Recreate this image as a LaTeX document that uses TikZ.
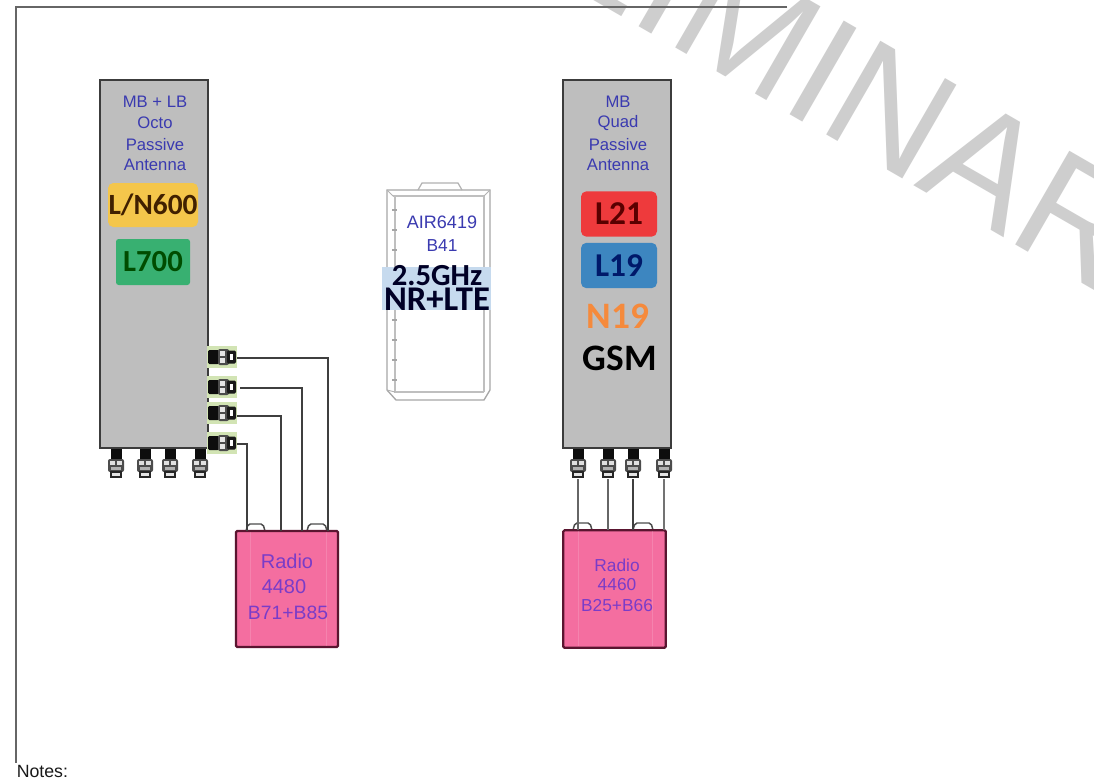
\documentclass[tikz,border=0pt]{standalone}
\usepackage{fontspec}
\setmainfont{Liberation Sans}
\newfontfamily\boldface{Carlito}
\definecolor{watermark}{HTML}{CECECE}
\definecolor{antgrey}{HTML}{BEBEBE}
\definecolor{antedge}{HTML}{3C3C3C}
\definecolor{labelblue}{HTML}{3A3AB0}
\definecolor{radiopink}{HTML}{F46EA0}
\definecolor{radioedge}{HTML}{5A1530}
\definecolor{radiotext}{HTML}{7A3CC8}
\definecolor{wire}{HTML}{3F3F3F}
\definecolor{portgreen}{HTML}{D2E4B4}
\definecolor{yellowband}{HTML}{F4C64B}
\definecolor{greenband}{HTML}{38B071}
\definecolor{redband}{HTML}{EE3A3C}
\definecolor{blueband}{HTML}{3D86C0}
\definecolor{airband}{HTML}{C6DAEE}
\definecolor{orangetext}{HTML}{F58A3C}
\tikzset{
  x=0.75pt,y=-0.75pt,
  antenna/.style={draw=antedge,line width=1.3pt,fill=antgrey,minimum width=81pt,minimum height=276pt,inner sep=0pt,outer sep=0pt},
  radiobox/.style={draw=radioedge,line width=1.7pt,fill=radiopink,rounded corners=1pt,inner sep=0pt,outer sep=0pt},
  bandbox/.style={rounded corners=4pt,inner sep=0pt,outer sep=0pt},
  anttext/.style={text=labelblue,font=\fontsize{12.5}{14}\selectfont,inner sep=0pt},
  radtext/.style={text=radiotext,font=\fontsize{15}{17}\selectfont,inner sep=0pt},
  radtextb/.style={text=radiotext,font=\fontsize{13}{15}\selectfont,inner sep=0pt},
  bandtext/.style={font=\boldface\bfseries\fontsize{22}{24}\selectfont,inner sep=0pt},
  bigband/.style={font=\boldface\bfseries\fontsize{25}{28}\selectfont,inner sep=0pt},
  hugeband/.style={font=\boldface\bfseries\fontsize{28}{30}\selectfont,inner sep=0pt},
  wirestyle/.style={draw=wire,line width=1.05pt},
  tabstyle/.style={draw=black!70,line width=1.1pt,fill=white,rounded corners=1.5pt},
  portpt/.style={inner sep=0pt,minimum size=0pt,outer sep=0pt},
}
% connector pointing down, origin at top centre
\newcommand{\downport}[3]{%
  \fill[black!95] (#1-5.5,#2) rectangle (#1+5.5,#2+10);
  \fill[black!70,rounded corners=1.5pt] (#1-8,#2+10) rectangle (#1+8,#2+23);
  \fill[black!12] (#1-6,#2+12) rectangle (#1-1,#2+16);
  \fill[black!12] (#1+1,#2+12) rectangle (#1+6,#2+16);
  \fill[black!30] (#1-5,#2+18) rectangle (#1+5,#2+21);
  \filldraw[draw=black!85,fill=black!10,line width=1.5pt] (#1-5,#2+22.5) rectangle (#1+5,#2+28);
  \node[portpt] (#3) at (#1,#2+30) {};
}
% connector pointing right, origin at left centre
\newcommand{\sideport}[3]{%
  \fill[portgreen] (#1,#2-11) rectangle (#1+30,#2+11);
  \fill[black!95,rounded corners=1pt] (#1+1,#2-7) rectangle (#1+12,#2+7);
  \fill[black!70,rounded corners=1.5pt] (#1+11,#2-8) rectangle (#1+22,#2+8);
  \fill[black!10] (#1+13,#2-6) rectangle (#1+18,#2-1);
  \fill[black!10] (#1+13,#2+1) rectangle (#1+18,#2+6);
  \fill[black!90,rounded corners=1pt] (#1+20,#2-6.5) rectangle (#1+29,#2+6.5);
  \fill[white] (#1+23,#2-3) rectangle (#1+26,#2+3);
  \node[portpt] (#3) at (#1+30,#2+1) {};
}
\begin{document}
\begin{tikzpicture}
\useasboundingbox (0,0) rectangle (1094,782);
\fill[white] (0,0) rectangle (1094,782);
% watermark
\begin{scope}
\clip (0,0) rectangle (1094,782);
\node[rotate=-30,anchor=base west,inner sep=0pt,text=watermark,font=\fontsize{118}{120}\selectfont] (wm) at (270,-186) {PRELIMINARY};
\end{scope}
% page frame
\coordinate (frameA) at (787,7);
\coordinate (frameB) at (16,7);
\coordinate (frameC) at (16,763);
\draw[black!60,line width=0.8pt] (frameA) -- (frameB) -- (frameC);
\node[anchor=base west,inner sep=0pt,font=\fontsize{13.3}{15}\selectfont,text=black!90] (notes) at (16.5,777) {Notes:};
% antennas
\node[antenna] (antL) at (154,264) {};
\node[antenna] (antR) at (617,264) {};
\node[anttext] (l1) at (155,102) {MB + LB};
\node[anttext] (l2) at (155,123) {Octo};
\node[anttext] (l3) at (155,145) {Passive};
\node[anttext] (l4) at (155,165) {Antenna};
\node[anttext] (r1) at (618,102) {MB};
\node[anttext] (r2) at (618,123) {Quad};
\node[anttext] (r3) at (618,145) {Passive};
\node[anttext] (r4) at (618,165) {Antenna};
% band labels
\node[bandbox,fill=yellowband,minimum width=67.5pt,minimum height=33pt] (b600) at (153,205) {};
\node[bandtext,text=black!75!orange] (tb600) at (b600) {L/N600};
\node[bandbox,fill=greenband,rounded corners=2pt,minimum width=55.5pt,minimum height=34.5pt] (b700) at (153,262) {};
\node[bandtext,font=\boldface\bfseries\fontsize{23}{25}\selectfont,text=green!30!black] (tb700) at (b700) {L700};
\node[bandbox,fill=redband,minimum width=57pt,minimum height=34pt] (b21) at (619,214) {};
\node[bigband,text=red!35!black] (tb21) at (b21) {L21};
\node[bandbox,fill=blueband,minimum width=57pt,minimum height=34pt] (b19) at (619,265.5) {};
\node[bigband,text=blue!35!black!90!cyan] (tb19) at (b19) {L19};
\node[hugeband,text=orangetext] (n19) at (618,316) {N19};
\node[hugeband,text=black] (gsm) at (620,358) {GSM};
% AIR unit
\draw[black!35,line width=1pt,fill=white] (387,190) -- (490,190) -- (490,390) -- (484,400) -- (396,400) -- (387,390) -- cycle;
\draw[black!25,line width=0.8pt] (393,196) -- (484,196) -- (484,392);
\draw[black!25,line width=0.8pt] (395,196) -- (395,392) -- (484,392);
\draw[black!30,line width=0.9pt] (418,190) -- (422,183) -- (458,183) -- (462,190);
\draw[black!30,line width=0.7pt] (387,190) -- (393,196) (490,190) -- (484,196) (387,390) -- (395,392);
\foreach \yy in {210,230,250,320,340,360,380} {\draw[black!35,line width=1.2pt] (392,\yy) -- (397,\yy);}
\fill[airband] (382,267) rectangle (491,310);
\node[anttext,font=\fontsize{13.5}{15}\selectfont] (air1) at (442,222) {AIR6419};
\node[anttext,font=\fontsize{13}{15}\selectfont] (air2) at (442,246) {B41};
\node[bandtext,font=\boldface\bfseries\fontsize{23}{25}\selectfont,text=black!85!blue] (air3) at (437,276) {2.5GHz};
\node[bandtext,font=\boldface\bfseries\fontsize{26}{28}\selectfont,text=black!85!blue] (air4) at (437,299) {NR+LTE};
% ports
\sideport{207}{357}{pa}
\sideport{207}{387}{pb}
\sideport{207}{413}{pc}
\sideport{207}{443}{pd}
\downport{116}{449}{qa}
\downport{145}{449}{qb}
\downport{170}{449}{qc}
\downport{200}{449}{qd}
\downport{578}{449}{ra}
\downport{608}{449}{rb}
\downport{633}{449}{rc}
\downport{664}{449}{rd}
% tabs
\filldraw[tabstyle] (246,531) -- (248,524) -- (263,524) -- (265,531);
\filldraw[tabstyle] (307,531) -- (309,524) -- (325,524) -- (327,531);
\filldraw[tabstyle] (573,530) -- (575,523) -- (590,523) -- (592,530);
\filldraw[tabstyle] (633,530) -- (635,523) -- (651,523) -- (653,530);
% radios
\node[radiobox,minimum width=76.5pt,minimum height=87pt] (radL) at (287,589) {};
\node[radiobox,minimum width=77pt,minimum height=88pt] (radR) at (614.5,589) {};
\draw[white,opacity=.15,line width=0.6pt] (250,532) -- (250,646) (326,532) -- (326,646);
\draw[white,opacity=.15,line width=0.6pt] (578,531) -- (578,646) (652,531) -- (652,646);
\node[radtext] (t1) at (287,561) {Radio};
\node[radtext] (t2) at (284,587) {4480};
\node[radtext,font=\fontsize{14.5}{16}\selectfont] (t3) at (288,613) {B71+B85};
\node[radtextb] (t4) at (617,565) {Radio};
\node[radtextb] (t5) at (617,585) {4460};
\node[radtextb] (t6) at (617,606) {B25+B66};
% radio pins
\coordinate (la) at (328,531);
\coordinate (lb) at (302,531);
\coordinate (lc) at (281,531);
\coordinate (ld) at (247,531);
\coordinate (ma) at (578,530);
\coordinate (mb) at (608,530);
\coordinate (mc) at (633,530);
\coordinate (md) at (664,530);
% wires
\draw[wirestyle] (pa.east) -| (la);
\draw[wirestyle,shorten <=2.5pt] (pb.east) -| (lb);
\draw[wirestyle] ([yshift=-1.5pt]pc.east) -| (lc);
\draw[wirestyle] (pd.east) -| (ld);
\draw[wirestyle,line width=1.3pt,draw=black!60] (ra) -- (ma);
\draw[wirestyle,line width=1.3pt,draw=black!60] (rb) -- (mb);
\draw[wirestyle] (rc) -- (mc);
\draw[wirestyle,draw=black!55] (rd) -- (md);
\end{tikzpicture}
\end{document}
